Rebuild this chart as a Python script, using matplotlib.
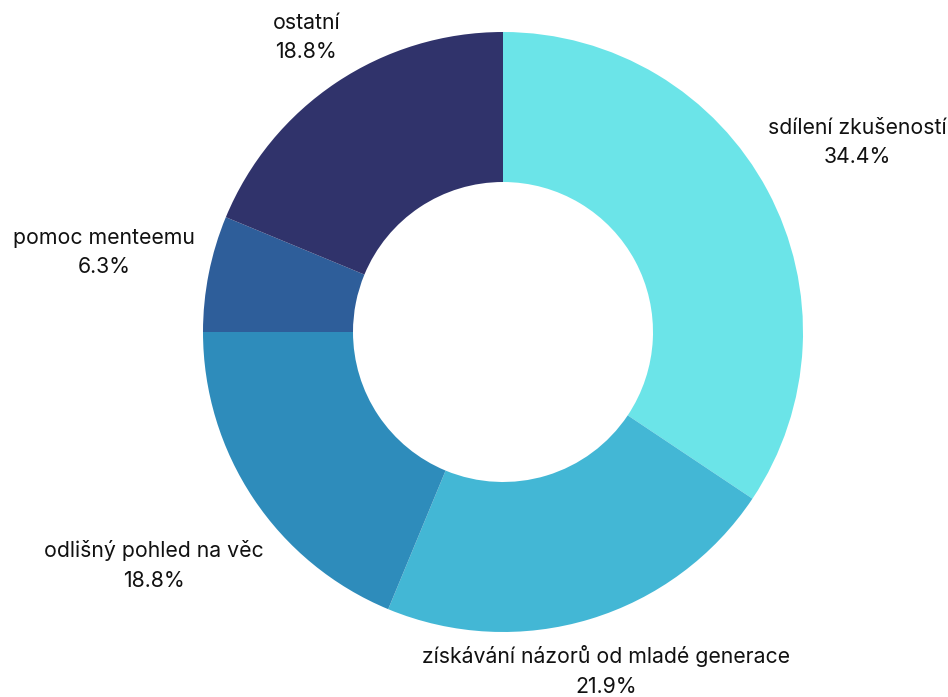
from decimal import Decimal, ROUND_HALF_UP

import numpy as np
import matplotlib
matplotlib.use("Agg")
import matplotlib.pyplot as plt

plt.rcParams["font.family"] = ["Inter", "DejaVu Sans"]

# ---------- Data ----------
labels = ["sdílení zkušeností", "získávání názorů od mladé generace",
          "odlišný pohled na věc", "pomoc menteemu", "ostatní"]
counts = [11, 7, 6, 2, 6]
colors = ["#6BE4E8", "#43B7D5", "#2E8CBB", "#2E5E9A", "#30336B"]
label_dist = [1.34, 1.18, 1.40, 1.355, 1.18]


def pct(n, total):
    v = Decimal(n * 100) / Decimal(total)
    return f"{v.quantize(Decimal('0.1'), rounding=ROUND_HALF_UP)}%"


fig = plt.figure(figsize=(9.48, 6.97), dpi=100)
ax = fig.add_axes([0, 0, 1, 1])

wedges, _ = ax.pie(counts, colors=colors, startangle=90, counterclock=False,
                   radius=1.0, wedgeprops=dict(width=0.5, linewidth=0))

total = sum(counts)
for w, lab, n, d in zip(wedges, labels, counts, label_dist):
    theta = np.deg2rad((w.theta1 + w.theta2) / 2)
    ax.text(d * np.cos(theta), d * np.sin(theta), f"{lab}\n{pct(n, total)}",
            ha="center", va="center", fontsize=15.3, color="#111111",
            linespacing=1.6)

# 1 data unit = 300 px, centre at (503, 332) from top-left
ax.set_xlim(-503 / 300, (948 - 503) / 300)
ax.set_ylim(-(697 - 332) / 300, 332 / 300)
ax.set_aspect("auto")
ax.axis("off")

fig.savefig("out.png", dpi=100)
